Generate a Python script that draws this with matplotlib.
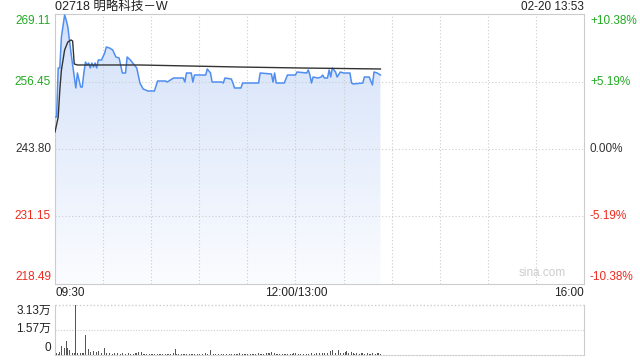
import numpy as np
import matplotlib.pyplot as plt

plt.rcParams['font.family'] = ['Liberation Sans', 'Noto Sans CJK SC', 'DejaVu Sans']

# price line (minutes since 09:30, lunch break removed) and price
price_min = [0, 1, 2, 3, 4, 6, 7, 8, 10, 11, 13, 14, 16, 17, 18, 19, 20, 21, 22, 23,
             24, 25, 26, 27, 29, 31, 32, 34, 36, 38, 40, 42, 44, 45, 47, 48, 51, 53, 55, 58,
             62, 64, 69, 70, 74, 80, 81, 82, 85, 86, 87, 94, 95, 97, 98, 104, 105, 106, 110, 111,
             112, 116, 117, 127, 128, 135, 136, 137, 138, 143, 145, 150, 151, 157, 158, 159, 160, 161, 164, 166,
             167, 168, 170, 171, 172, 173, 175, 176, 178, 180, 184, 185, 186, 192, 193, 196, 198, 199, 201, 203]
price = [249.80, 249.80, 258.99, 258.99, 264.80, 268.92, 267.99, 266.67, 261.80, 259.55,
         255.24, 258.05, 255.42, 255.42, 258.05, 260.11, 259.55, 259.92, 258.99, 259.92,
         259.17, 259.92, 258.99, 260.49, 260.49, 261.80, 262.92, 262.74, 262.36, 261.05,
         260.86, 258.05, 258.05, 261.05, 260.49, 260.11, 258.99, 256.17, 255.05, 254.67,
         254.67, 256.55, 256.55, 256.36, 257.11, 257.11, 256.36, 258.05, 258.05, 256.36,
         257.67, 257.67, 258.80, 258.05, 256.36, 256.36, 256.17, 257.11, 256.92, 256.17,
         255.24, 255.24, 256.17, 256.17, 258.05, 257.86, 256.36, 258.05, 256.17, 256.17,
         257.67, 257.67, 258.24, 258.05, 258.61, 257.67, 256.17, 257.30, 257.11, 257.30,
         257.67, 257.11, 257.11, 258.61, 257.30, 258.99, 258.24, 257.30, 258.24, 258.05,
         258.05, 256.17, 255.99, 256.17, 257.30, 257.30, 255.80, 258.24, 258.05, 257.67]

# average price line
avg_min = [0, 2, 3, 4, 6, 8, 10, 11, 12, 14, 53, 115, 153, 203]
avg_price = [246.99, 249.80, 254.86, 258.61, 262.36, 263.86, 264.24, 264.05, 259.74, 259.55,
             259.55, 259.17, 258.99, 258.80]

# volume per minute, in 万 shares
volume = [0.05, 0.12, 0.08, 0.18, 0.56, 0.56, 0.42, 0.88, 0.45, 0.30,
          0.38, 0.15, 0.10, 3.13, 0.10, 0.08, 0.12, 0.10, 0.15, 1.25,
          0.12, 0.38, 0.20, 0.18, 0.22, 0.15, 0.20, 0.25, 0.12, 0.10,
          0.15, 0.44, 0.10, 0.08, 0.12, 0.10, 0.08, 0.12, 0.60, 0.10,
          0.08, 0.06, 0.10, 0.08, 0.06, 0.08, 0.10, 0.06, 0.05, 0.08,
          0.10, 0.15, 0.20, 0.12, 0.18, 0.08, 0.06, 0.05, 0.08, 0.06,
          0.05, 0.06, 0.08, 0.05, 0.06, 0.04, 0.06, 0.08, 0.05, 0.06,
          0.08, 0.06, 0.05, 0.10, 0.12, 0.38, 0.08, 0.06, 0.05, 0.06,
          0.05, 0.06, 0.05, 0.04, 0.06, 0.05, 0.06, 0.08, 0.05, 0.04,
          0.06, 0.05, 0.06, 0.08, 0.10, 0.06, 0.08, 0.32, 0.10, 0.06,
          0.08, 0.06, 0.05, 0.06, 0.05, 0.06, 0.08, 0.06, 0.05, 0.06,
          0.05, 0.06, 0.08, 0.05, 0.06, 0.12, 0.08, 0.06, 0.05, 0.06,
          0.08, 0.06, 0.05, 0.06, 0.05, 0.06, 0.08, 0.10, 0.06, 0.05,
          0.06, 0.08, 0.12, 0.10, 0.15, 0.20, 0.12, 0.10, 0.08, 0.06,
          0.08, 0.10, 0.06, 0.05, 0.08, 0.06, 0.05, 0.06, 0.05, 0.10,
          0.12, 0.08, 0.06, 0.05, 0.08, 0.06, 0.10, 0.08, 0.06, 0.10,
          0.15, 0.10, 0.08, 0.12, 0.20, 0.10, 0.08, 0.12, 0.10, 0.08,
          0.15, 0.20, 0.25, 0.30, 0.20, 0.15, 0.25, 0.30, 0.15, 0.20,
          0.12, 0.18, 0.25, 0.15, 0.10, 0.20, 0.12, 0.08, 0.15, 0.10,
          0.08, 0.12, 0.10, 0.08, 0.06, 0.10, 0.08, 0.06, 0.10, 0.08,
          0.06, 0.10, 0.12, 0.08]

price_ticks = [269.11, 256.45, 243.80, 231.15, 218.49]
pct_ticks = ['+10.38%', '+5.19%', '0.00%', '-5.19%', '-10.38%']
tick_colors = ['#22aa22', '#22aa22', '#333333', '#ee2a1f', '#ee2a1f']
vol_ticks = [3.13, 1.57, 0]
vol_labels = ['3.13万', '1.57万', '0']

W, H = 640, 360
fig = plt.figure(figsize=(6.4, 3.6), dpi=100)
fig.patch.set_facecolor('white')

def fx(px):
    return px / W

def fy(py):
    return 1 - py / H

ax = fig.add_axes([fx(55), fy(284), fx(584) - fx(55), fy(14) - fy(284)])
vax = fig.add_axes([fx(55), fy(355), fx(584) - fx(55), fy(305) - fy(355)])

ymin, ymax = price_ticks[-1], price_ticks[0]
ax.set_xlim(0, 330)
ax.set_ylim(ymin, ymax)

# gradient fill under the price line
grad = np.linspace(0, 1, 256).reshape(-1, 1)
img = ax.imshow(grad, extent=[0, 330, ymin, ymax], aspect='auto', origin='lower',
                cmap=plt.matplotlib.colors.LinearSegmentedColormap.from_list(
                    'fillgrad', ['#fbfcff', '#d3e1f9']), zorder=1)
poly = ax.fill_between(price_min, price, ymin, color='none', lw=0)
clip = poly.get_paths()[0]
img.set_clip_path(clip, transform=ax.transData)

ax.plot(price_min, price, color='#4f8ef0', lw=1.1, zorder=3)
ax.plot(avg_min, avg_price, color='#333333', lw=1.0, zorder=4)

# grid
for v in price_ticks[1:-1]:
    ax.axhline(v, color='#cccccc', lw=0.8, ls=(0, (1, 2)), zorder=2)
for m in range(30, 330, 30):
    ax.axvline(m, color='#cccccc', lw=0.8, ls=(0, (1, 2)), zorder=2)
for s in ax.spines.values():
    s.set_color('#cccccc')
ax.set_xticks([])
ax.set_yticks([])

# left / right labels
for v, pct, c in zip(price_ticks, pct_ticks, tick_colors):
    py = 14 + (ymax - v) / (ymax - ymin) * 270
    if v == ymax:
        py += 7
    elif v == ymin:
        py -= 7
    fig.text(fx(51), fy(py), f'{v:.2f}', ha='right', va='center', color=c, fontsize=8.5)
    fig.text(fx(590), fy(py), pct, ha='left', va='center', color=c, fontsize=8.5)

fig.text(fx(55), fy(7), '02718 明略科技－W', ha='left', va='center', color='#222222', fontsize=9)
fig.text(fx(584), fy(7), '02-20 13:53', ha='right', va='center', color='#222222', fontsize=8.5)
fig.text(fx(55), fy(293), '09:30', ha='left', va='center', color='#222222', fontsize=8.5)
fig.text(fx(296), fy(293), '12:00/13:00', ha='center', va='center', color='#222222', fontsize=8.5)
fig.text(fx(584), fy(293), '16:00', ha='right', va='center', color='#222222', fontsize=8.5)
ax.text(0.965, 0.02, 'sina.com', transform=ax.transAxes, ha='right', va='bottom',
        color='#cccccc', fontsize=8.5)

# volume
vax.bar(np.arange(len(volume)), volume, width=0.45, color='#555555', zorder=3)
vax.set_xlim(0, 330)
vax.set_ylim(0, vol_ticks[0])
vax.set_xticks([])
vax.set_yticks([])
vax.axhline(vol_ticks[1], color='#cccccc', lw=0.8, ls=(0, (1, 1.5)), zorder=1)
vax.axhline(vol_ticks[0], color='#cccccc', lw=1.0, ls=(0, (1, 1.5)), zorder=1, clip_on=False)
vax.spines['top'].set_visible(False)
vax.spines['bottom'].set_linestyle((0, (1, 1.5)))
for s in vax.spines.values():
    s.set_color('#cccccc')
vol_py = [311, 329, 348]
for lab, py in zip(vol_labels, vol_py):
    fig.text(fx(51), fy(py), lab, ha='right', va='center', color='#222222', fontsize=8.5)

fig.savefig('out.png', dpi=100)
